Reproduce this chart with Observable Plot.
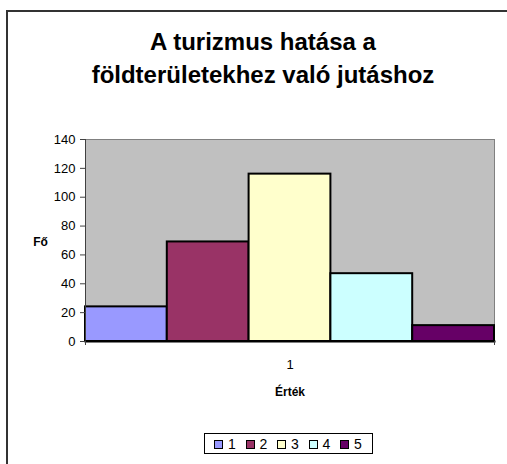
<!DOCTYPE html>
<html><head><meta charset="utf-8">
<script src="https://cdn.jsdelivr.net/npm/d3@7"></script>
<script src="https://cdn.jsdelivr.net/npm/@observablehq/plot@0.6"></script>
<style>
body{margin:0;background:#fff;}
#wrap{position:relative;width:507px;height:464px;overflow:hidden;font-family:"Liberation Sans",Arial,sans-serif;}
#border{position:absolute;left:6px;top:10px;width:700px;height:700px;border-left:2px solid #333;border-top:2px solid #333;box-sizing:border-box;}
#chart{position:absolute;left:0;top:0;}
#legend{position:absolute;left:204px;top:433px;width:169px;height:21px;border:1px solid #000;box-sizing:border-box;background:#fff;}
.item{position:absolute;top:0;height:19px;display:flex;align-items:center;font-size:14px;color:#000;}
.sw{width:9px;height:9px;border:1.5px solid #000;box-sizing:border-box;margin-right:5px;margin-top:1px;}
</style></head>
<body>
<div id="wrap"><div id="border"></div><div id="chart"></div><div id="legend"></div></div>
<script>
const categories = ["1","2","3","4","5"];
const values = [24, 69, 116, 47, 11];
const colors = ["#9999FF","#993366","#FFFFCC","#CCFFFF","#660066"];
const yTicks = [0,20,40,60,80,100,120,140];
const groupLabels = ["1"];
const titleLines = ["A turizmus hatása a","földterületekhez való jutáshoz"];
const xLabel = "Érték";
const yLabel = "Fő";

const data = categories.map((c,i)=>({cat:c, i, value:values[i]}));
const n = categories.length;

const plot = Plot.plot({
  width:507, height:464,
  marginLeft:85, marginRight:13, marginTop:139, marginBottom:123,
  style:{fontFamily:"Liberation Sans, Arial, sans-serif", fontSize:"13px", color:"#000", background:"transparent", overflow:"visible"},
  x:{domain:[0,n], axis:null},
  y:{domain:[0,140], axis:null},
  color:{domain:categories, range:colors},
  marks:[
    Plot.frame({fill:"#c0c0c0", stroke:"#808080"}),
    Plot.rectY(data,{x1:"i", x2:d=>d.i+1, y:"value", fill:"cat", stroke:"#000", strokeWidth:2}),
    Plot.frame({anchor:"left", stroke:"#404040"}),
    Plot.frame({anchor:"bottom", stroke:"#000", strokeWidth:2}),
    Plot.axisY({ticks:yTicks, tickSize:5, tickPadding:5, label:null, fontSize:13, stroke:"#404040", fill:"#000"}),
    Plot.axisX({ticks:[0,n], tickSize:4, tickFormat:()=>"", label:null, stroke:"#404040"}),
    Plot.axisX({ticks:[n/2], tickSize:0, tickPadding:18, tickFormat:()=>groupLabels[0], label:null, fontSize:13, fill:"#000"}),
    Plot.text([xLabel],{text:d=>d, frameAnchor:"bottom", dy:54, fontWeight:"bold", fontSize:12, fill:"#000"}),
    Plot.text([yLabel],{text:d=>d, frameAnchor:"left", dx:-45, dy:2, fontWeight:"bold", fontSize:12, textAnchor:"middle", fill:"#000"}),
    Plot.text([titleLines.join("\n")],{text:d=>d, frameAnchor:"top", dx:-27, dy:-113, lineAnchor:"top", fontSize:24, fontWeight:"bold", lineHeight:1.375, fill:"#000"})
  ]
});
document.getElementById("chart").appendChild(plot);

const legend = document.getElementById("legend");
categories.forEach((c,i)=>{
  const it = document.createElement("div");
  it.className = "item";
  it.style.left = (9 + i*31.5) + "px";
  const sw = document.createElement("div");
  sw.className = "sw";
  sw.style.background = colors[i];
  it.appendChild(sw);
  const t = document.createElement("span");
  t.textContent = c;
  it.appendChild(t);
  legend.appendChild(it);
});
</script>
</body></html>
